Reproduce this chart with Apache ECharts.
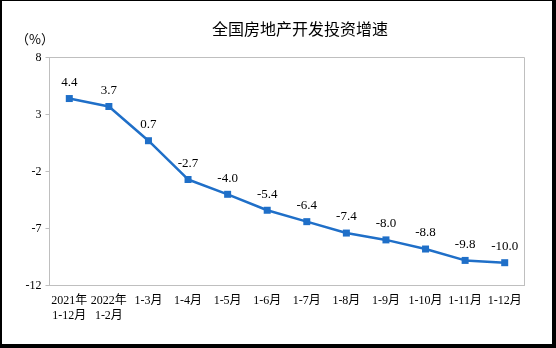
<!DOCTYPE html>
<html><head><meta charset="utf-8">
<script src="https://cdn.jsdelivr.net/npm/echarts@6/dist/echarts.min.js"></script>
<style>html,body{margin:0;padding:0;background:#fff}#c{width:556px;height:348px}</style>
</head><body><div id="c"></div>
<script>
const categories = ['2021年\n1-12月','2022年\n1-2月','1-3月','1-4月','1-5月','1-6月','1-7月','1-8月','1-9月','1-10月','1-11月','1-12月'];
const growth = [4.4, 3.7, 0.7, -2.7, -4.0, -5.4, -6.4, -7.4, -8.0, -8.8, -9.8, -10.0];
const yTicks = [-12, -7, -2, 3, 8];

const serif = '"Liberation Serif","Noto Sans CJK SC",serif';
const chart = echarts.init(document.getElementById('c'), null, {renderer:'canvas'});
chart.setOption({
  animation: false,
  title: {
    text: '全国房地产开发投资增速', left: 295, top: 16, textAlign: 'center',
    textStyle: {fontFamily: '"Noto Sans CJK SC",sans-serif', fontSize: 16, fontWeight: 'normal', color: '#000'}
  },
  graphic: [
    {type:'rect', shape:{x:0,y:0,width:556,height:1}, style:{fill:'#000'}},
    {type:'rect', shape:{x:0,y:0,width:2,height:348}, style:{fill:'#000'}},
    {type:'rect', shape:{x:552,y:0,width:4,height:348}, style:{fill:'#000'}},
    {type:'rect', shape:{x:0,y:344,width:556,height:4}, style:{fill:'#000'}},
    {type:'text', left: 16, top: 33, style:{text:'（%）', font:'13px "Noto Sans CJK SC",sans-serif', fill:'#000'}}
  ],
  grid: {left: 49.5, right: 31.5, top: 57.5, bottom: 62.5, show: true, borderColor: '#bfbfbf', borderWidth: 1},
  xAxis: {
    type: 'category', data: categories, boundaryGap: true,
    axisLine: {onZero: false, lineStyle: {color: '#bfbfbf'}},
    axisTick: {inside: true, length: 4, lineStyle: {color: '#bfbfbf'}},
    axisLabel: {interval: 0, margin: 8, color: '#000', fontFamily: serif, fontSize: 12, lineHeight: 15, align: 'center'}
  },
  yAxis: {
    type: 'value', min: yTicks[0], max: yTicks[yTicks.length-1], interval: 5,
    axisLine: {show: true, lineStyle: {color: '#bfbfbf'}},
    axisTick: {show: true, length: 4, lineStyle: {color: '#bfbfbf'}},
    splitLine: {show: false},
    axisLabel: {margin: 8, color: '#000', fontFamily: serif, fontSize: 12}
  },
  series: [{
    type: 'line', data: growth,
    symbol: 'rect', symbolSize: 7,
    lineStyle: {color: '#1f6fc8', width: 2.5},
    itemStyle: {color: '#1f6fc8'},
    label: {show: true, position: 'top', distance: 6, color: '#000', fontFamily: serif, fontSize: 13,
      formatter: p => p.value.toFixed(1)}
  }]
});
</script></body></html>
